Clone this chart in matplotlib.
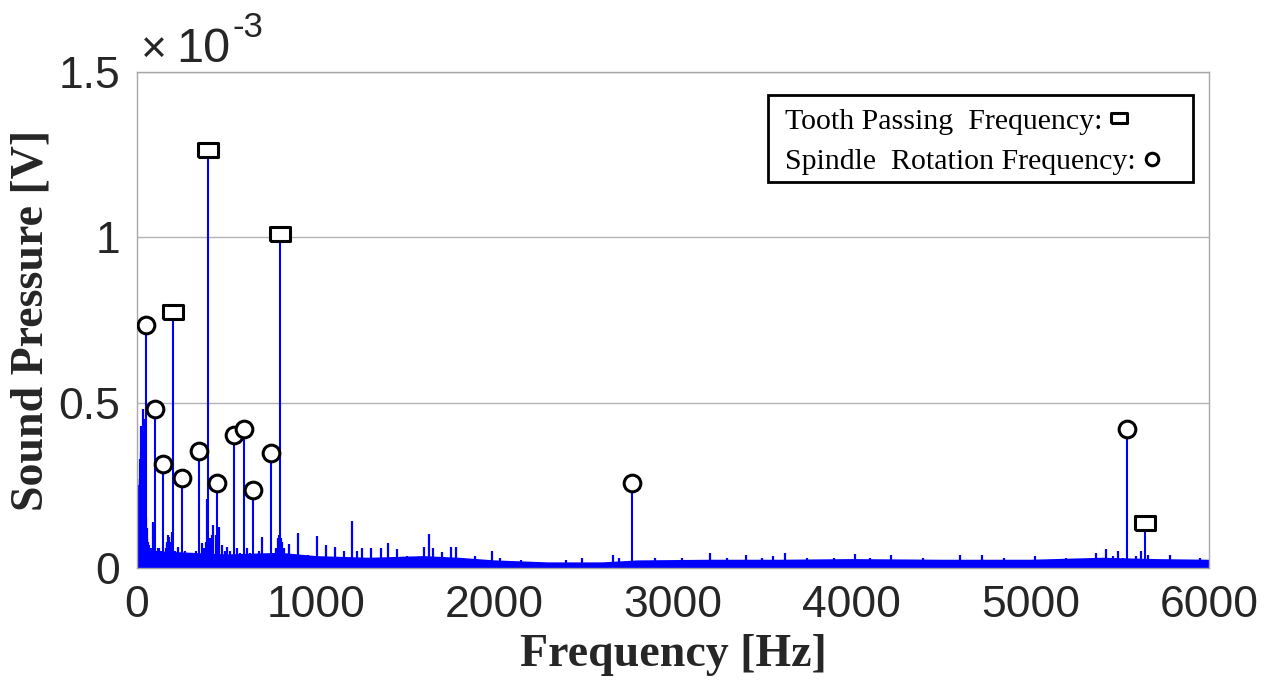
"""Sound pressure spectrum with tooth passing / spindle rotation peaks marked."""

import matplotlib

matplotlib.use("Agg")
import matplotlib.pyplot as plt
from matplotlib.lines import Line2D
from matplotlib.patches import Rectangle

# amplitudes are in units of 1e-3 V (the axis shows x10^-3)
tooth_hz = [200, 399, 800, 5642]
tooth_amp = [0.773, 1.264, 1.009, 0.137]

spindle_hz = [49, 101, 147, 250, 349, 449, 545, 599, 649, 752, 2772, 5539]
spindle_amp = [0.735, 0.480, 0.314, 0.273, 0.355, 0.257, 0.401, 0.419, 0.237, 0.348, 0.256, 0.420]

# smaller spectral lines
spike_hz = [0, 2, 4, 6, 8, 10, 12, 14, 16, 18, 20, 22, 24, 26, 28, 30, 32, 35, 37,
            40, 42, 44, 46, 52, 55, 58, 62, 66, 70, 76, 82, 88, 95, 110, 118, 125,
            135, 160, 165, 170, 175, 181, 188, 194, 210, 228, 240, 270, 290, 310,
            330, 362, 375, 385, 394, 410, 418, 427, 440, 455, 461, 475, 490, 502,
            520, 535, 560, 575, 615, 630, 680, 701, 720, 780, 790, 795, 805, 810,
            820, 852, 903, 955, 1005, 1030, 1058, 1108, 1157, 1205, 1230, 1257,
            1308, 1365, 1406, 1455, 1510, 1560, 1606, 1636, 1658, 1705, 1755, 1785,
            1890, 1985, 2030, 2150, 2400, 2490, 2666, 2700, 2900, 3050, 3207, 3300,
            3406, 3500, 3560, 3628, 3750, 3900, 4018, 4100, 4218, 4400, 4609, 4732,
            4850, 5025, 5200, 5366, 5426, 5460, 5492, 5520, 5590, 5617, 5660, 5781,
            5850, 5950]
spike_amp = [0.27, 0.20, 0.18, 0.24, 0.25, 0.19, 0.22, 0.27, 0.33, 0.26, 0.28, 0.43,
             0.35, 0.30, 0.33, 0.37, 0.40, 0.48, 0.45, 0.40, 0.35, 0.29, 0.22, 0.15,
             0.12, 0.09, 0.08, 0.07, 0.06, 0.05, 0.06, 0.14, 0.05, 0.05, 0.06, 0.06,
             0.05, 0.06, 0.07, 0.08, 0.10, 0.095, 0.08, 0.11, 0.05, 0.065, 0.04,
             0.05, 0.045, 0.04, 0.05, 0.075, 0.06, 0.08, 0.21, 0.09, 0.10, 0.13,
             0.10, 0.09, 0.125, 0.07, 0.05, 0.065, 0.05, 0.04, 0.06, 0.045, 0.06,
             0.045, 0.05, 0.095, 0.04, 0.06, 0.09, 0.10, 0.09, 0.08, 0.06, 0.072,
             0.105, 0.04, 0.097, 0.03, 0.07, 0.065, 0.05, 0.143, 0.05, 0.06, 0.06,
             0.06, 0.077, 0.058, 0.035, 0.03, 0.065, 0.103, 0.06, 0.047, 0.065,
             0.065, 0.035, 0.05, 0.03, 0.025, 0.025, 0.03, 0.04, 0.03, 0.03, 0.03,
             0.045, 0.03, 0.04, 0.03, 0.035, 0.045, 0.03, 0.03, 0.042, 0.03, 0.04,
             0.03, 0.04, 0.04, 0.03, 0.035, 0.03, 0.045, 0.057, 0.035, 0.05, 0.03,
             0.035, 0.05, 0.04, 0.04, 0.025, 0.03]

# upper edge of the broadband noise floor
floor_hz = [0, 100, 300, 500, 800, 1000, 1300, 1600, 1800, 2000, 2300, 2600, 2800,
            3200, 3600, 4000, 4500, 5000, 5400, 5700, 6000]
floor_top = [0.07, 0.05, 0.045, 0.04, 0.045, 0.035, 0.03, 0.035, 0.03, 0.022, 0.016,
             0.016, 0.022, 0.024, 0.024, 0.026, 0.024, 0.024, 0.03, 0.026, 0.024]

x_ticks = [0, 1000, 2000, 3000, 4000, 5000, 6000]
y_ticks = [0, 0.5, 1.0, 1.5]
y_tick_labels = ["0", "0.5", "1", "1.5"]

BLUE = "#0000ff"
SERIF = "Liberation Serif"
SANS = "Liberation Sans"
INK = "#262626"

# MATLAB's square markers come out wider than tall in the source figure
rect_marker = [(-1.0, -0.7), (1.0, -0.7), (1.0, 0.7), (-1.0, 0.7), (-1.0, -0.7)]

fig = plt.figure(figsize=(12.76, 6.96), dpi=100)
ax = fig.add_axes([0.1074, 0.1839, 0.8401, 0.7127])

ax.fill_between(floor_hz, 0, floor_top, color=BLUE, lw=1.2, zorder=2)
ax.vlines(spike_hz, 0, spike_amp, color=BLUE, lw=1.6, zorder=2)
ax.vlines(tooth_hz, 0, tooth_amp, color=BLUE, lw=1.5, zorder=2)
ax.vlines(spindle_hz, 0, spindle_amp, color=BLUE, lw=1.5, zorder=2)

ax.plot(tooth_hz, tooth_amp, ls="none", marker=rect_marker, ms=14, mfc="white",
        mec="black", mew=2.2, zorder=4)
ax.plot(spindle_hz, spindle_amp, ls="none", marker="o", ms=12, mfc="white",
        mec="black", mew=2.2, zorder=4)

ax.set_xlim(0, 6000)
ax.set_ylim(0, 1.5)
ax.set_xticks(x_ticks)
ax.set_yticks(y_ticks)
ax.set_yticklabels(y_tick_labels)
ax.tick_params(length=0, labelsize=32, labelcolor=INK, pad=12)
for lbl in ax.get_xticklabels() + ax.get_yticklabels():
    lbl.set_family(SANS)

ax.yaxis.grid(True, color="#b4b4b4", lw=1.0)
ax.set_axisbelow(True)
for sp in ax.spines.values():
    sp.set_color("#a8a8a8")
    sp.set_linewidth(1.0)

ax.set_xlabel("Frequency [Hz]", family=SERIF, fontweight="bold", fontsize=33,
              color=INK, labelpad=6)
ax.set_ylabel("Sound Pressure [V]", family=SERIF, fontweight="bold", fontsize=33,
              color=INK, labelpad=4)

# exponent label in the MATLAB style
fig.text(141 / 1276, 1 - 62 / 696, "\u00d7", family=SANS, fontsize=32,
         color=INK, ha="left", va="baseline")
fig.text(176 / 1276, 1 - 62 / 696, "10", family=SANS, fontsize=35,
         color=INK, ha="left", va="baseline")
fig.text(233 / 1276, 1 - 37 / 696, "-3", family=SANS, fontsize=25,
         color=INK, ha="left", va="baseline")

# the key box is wider than its text, so draw the frame on its own
ax.add_patch(Rectangle((0.5886, 0.7782), 0.3965, 0.1754, transform=ax.transAxes,
                       facecolor="white", edgecolor="black", lw=2.0, zorder=5))
handles = [
    Line2D([], [], ls="none", marker=rect_marker, ms=11, mfc="white", mec="black", mew=2.2),
    Line2D([], [], ls="none", marker="o", ms=9, mfc="white", mec="black", mew=2.2),
]
leg = ax.legend(handles, ["Tooth Passing  Frequency:", "Spindle  Rotation Frequency:"],
                loc="upper left", bbox_to_anchor=(0.5960, 0.946), borderaxespad=0,
                markerfirst=False, handlelength=0.8, handletextpad=0.15,
                borderpad=0.3, labelspacing=0.45, frameon=False,
                prop={"family": SERIF, "size": 21.5})
leg.set_zorder(6)
# rows start at the left, each marker follows its own text
for col in leg._legend_handle_box.get_children():
    col.align = "left"

fig.savefig("out.png", dpi=100)
